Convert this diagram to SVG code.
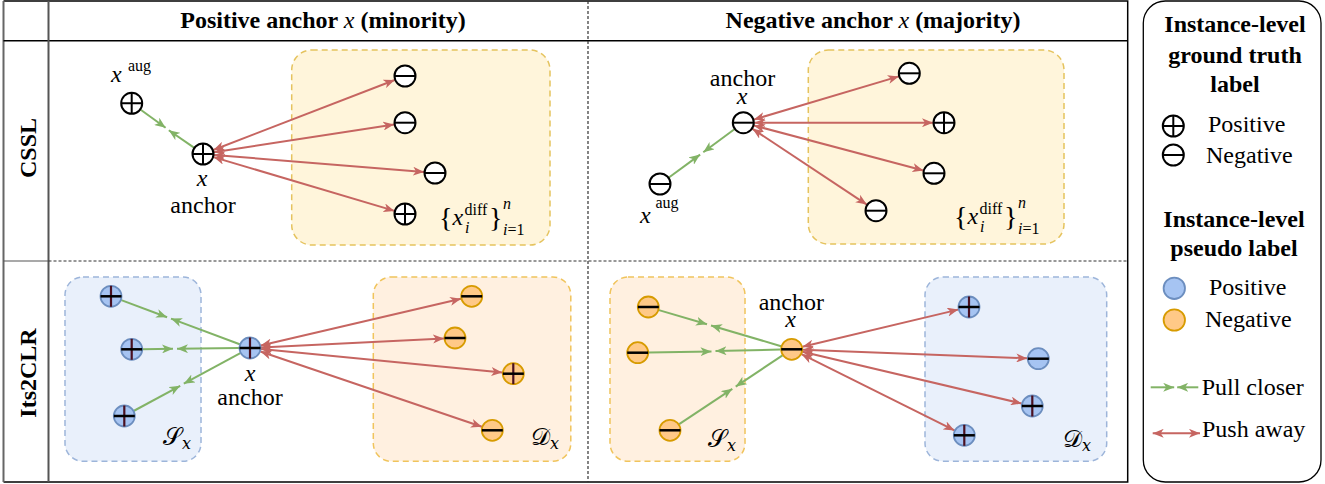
<svg xmlns="http://www.w3.org/2000/svg" width="1325" height="484" viewBox="0 0 1325 484">
<style>
text{font-family:"Liberation Serif","Times New Roman",serif;fill:#000}
.h{font-size:24px;font-weight:bold}
.t{font-size:24px}
.i{font-size:24px;font-style:italic}
.s{font-size:16px}
.si{font-size:16px;font-style:italic}
.br{font-size:28px}
.cal{font-size:24px;font-family:"DejaVu Serif","DejaVu Sans","Liberation Serif",serif}
.red{stroke:#c66561;stroke-width:2;fill:none;marker-start:url(#ar);marker-end:url(#ar)}
.grn{stroke:#82b366;stroke-width:2;fill:none;marker-end:url(#ag)}
.ybox{fill:#fff5db;stroke:#e5c35e;stroke-width:1.5;stroke-dasharray:6 4}
.bbox{fill:#e9f0fb;stroke:#9db5da;stroke-width:1.5;stroke-dasharray:6 4}
.obox{fill:#fff0e0;stroke:#f0c45c;stroke-width:1.5;stroke-dasharray:6 4}
.dash{stroke:#333;stroke-width:1.2;stroke-dasharray:3 2;fill:none}
</style>
<defs>
<marker id="ar" viewBox="0 0 11 9" refX="11" refY="4.5" markerWidth="11" markerHeight="9" markerUnits="userSpaceOnUse" orient="auto-start-reverse"><path d="M0,0 L11,4.5 L0,9 L3,4.5 z" fill="#c66561"/></marker>
<marker id="ag" viewBox="0 0 11 9" refX="11" refY="4.5" markerWidth="11" markerHeight="9" markerUnits="userSpaceOnUse" orient="auto"><path d="M0,0 L11,4.5 L0,9 L3,4.5 z" fill="#82b366"/></marker>
<g id="gp"><circle r="10.5" fill="#fff" stroke="#000" stroke-width="2"/><path d="M-10.5,0H10.5M0,-10.5V10.5" stroke="#000" stroke-width="2"/></g>
<g id="gm"><circle r="10.5" fill="#fff" stroke="#000" stroke-width="2"/><path d="M-10.5,0H10.5" stroke="#000" stroke-width="2"/></g>
<g id="bp"><circle r="10.5" fill="#a6c4f2" stroke="#6c8ebf" stroke-width="1.8"/><path d="M0,-10.5V10.5" stroke="#4a1020" stroke-width="2.2"/><path d="M-10.5,0H10.5" stroke="#000" stroke-width="2.5"/></g>
<g id="bm"><circle r="10.5" fill="#a6c4f2" stroke="#6c8ebf" stroke-width="1.8"/><path d="M-10.5,0H10.5" stroke="#000" stroke-width="2.5"/></g>
<g id="op"><circle r="10.5" fill="#ffc987" stroke="#d79b00" stroke-width="1.8"/><path d="M0,-10.5V10.5" stroke="#4a1020" stroke-width="2.2"/><path d="M-10.5,0H10.5" stroke="#000" stroke-width="2.5"/></g>
<g id="om"><circle r="10.5" fill="#ffc987" stroke="#d79b00" stroke-width="1.8"/><path d="M-10.5,0H10.5" stroke="#000" stroke-width="2.5"/></g>
</defs>

<rect width="1325" height="484" fill="#fff"/>

<g id="table">
<path d="M3.5,1H1127.7V482H3.5" fill="none" stroke="#000" stroke-width="1.5"/>
<path d="M3.5,1V482" stroke="#666" stroke-width="2"/>
<path d="M3.5,40.7H1127.7" stroke="#000" stroke-width="1.5"/>
<path d="M48.5,1V482" stroke="#555" stroke-width="2"/>
<path d="M3.5,261H48.5" stroke="#555" stroke-width="1.2"/>
<path class="dash" d="M48.5,261H1127.7"/>
<path class="dash" d="M588,1V482"/>
<text class="h" x="323" y="28" text-anchor="middle">Positive anchor <tspan font-style="italic" font-weight="normal">x</tspan> (minority)</text>
<text class="h" x="873" y="28" text-anchor="middle">Negative anchor <tspan font-style="italic" font-weight="normal">x</tspan> (majority)</text>
<text class="h" transform="translate(35.5,148) rotate(-90)" text-anchor="middle">CSSL</text>
<text class="h" transform="translate(35.5,373) rotate(-90)" text-anchor="middle">Its2CLR</text>
</g>

<g id="boxes">
<rect class="ybox" x="291.7" y="50" width="258.3" height="195" rx="20"/>
<rect class="ybox" x="808.3" y="50" width="255.7" height="194" rx="20"/>
<rect class="bbox" x="65" y="277" width="136" height="184.3" rx="18"/>
<rect class="obox" x="373.3" y="277" width="197.5" height="184.3" rx="18"/>
<rect class="obox" x="610" y="277" width="135" height="184.3" rx="18"/>
<rect class="bbox" x="925" y="277" width="181.7" height="184.3" rx="18"/>
</g>

<g id="connectors">
<!-- CSSL positive -->
<path class="grn" d="M140.7,109.7L165.6,127.8"/>
<path class="grn" d="M194,147.6L168.8,130.2"/>
<path class="red" d="M213.3,150L394.7,80"/>
<path class="red" d="M213.9,152.3L394.1,124.4"/>
<path class="red" d="M214,154.9L424,172.1"/>
<path class="red" d="M213.5,157.1L394.5,210.9"/>
<!-- CSSL negative -->
<path class="grn" d="M668.9,177.5L700.1,154.6"/>
<path class="grn" d="M734.4,129.2L703.3,152.2"/>
<path class="red" d="M753.8,119.6L898.8,76.4"/>
<path class="red" d="M754.3,122.7L933,122.7"/>
<path class="red" d="M753.9,125.5L923.4,170.5"/>
<path class="red" d="M752.5,128.8L866.8,204.6"/>
<!-- Its2CLR positive -->
<path class="grn" d="M121.3,300.1L167.1,317.2"/>
<path class="grn" d="M239.7,344.2L171,318.6"/>
<path class="grn" d="M142.7,349.2L173,348.8"/>
<path class="grn" d="M239,348.1L177,348.8"/>
<path class="grn" d="M133.6,411L180.2,385.8"/>
<path class="grn" d="M240.3,353.2L183.8,383.7"/>
<path class="red" d="M260.7,345.5L461,298.8"/>
<path class="red" d="M261,347.5L444,338.5"/>
<path class="red" d="M261,349.1L502.3,372.6"/>
<path class="red" d="M260.4,351.5L481.9,426.8"/>
<!-- Its2CLR negative -->
<path class="grn" d="M658.9,310.1L707,324.3"/>
<path class="grn" d="M781.1,346.2L711,325.5"/>
<path class="grn" d="M648.7,352.5L711.5,351.5"/>
<path class="grn" d="M780.7,349.5L715.5,351"/>
<path class="grn" d="M679.2,424.2L732.3,388.8"/>
<path class="grn" d="M782.5,355.4L735.7,386.6"/>
<path class="red" d="M802.4,346.7L958.3,309.6"/>
<path class="red" d="M802.7,349.7L1027.3,358.3"/>
<path class="red" d="M802.4,351.8L1021.6,403.5"/>
<path class="red" d="M801.5,354.2L954.5,430.4"/>
</g>

<g id="cssl-pos">
<g id="cssl-pos-aug"><use href="#gp" transform="translate(131.7,103.3)"/>
<text class="i" x="111" y="82">x</text><text class="s" x="128" y="71">aug</text></g>
<g id="cssl-pos-anchor"><use href="#gp" transform="translate(203,154)"/>
<text class="t" text-anchor="middle"><tspan x="202" y="186" font-style="italic">x</tspan><tspan x="203" y="213">anchor</tspan></text></g>
<g id="cssl-pos-d1"><use href="#gm" transform="translate(405,76)"/></g>
<g id="cssl-pos-d2"><use href="#gm" transform="translate(405,122.7)"/></g>
<g id="cssl-pos-d3"><use href="#gm" transform="translate(435,173)"/></g>
<g id="cssl-pos-d4"><use href="#gp" transform="translate(405,214)"/></g>
<g id="cssl-pos-label">
<text class="br" x="439" y="227">{</text>
<text class="i" x="452.5" y="225">x</text>
<text class="s" x="464.5" y="215">diff</text>
<text class="si" x="465" y="233">i</text>
<text class="br" x="489" y="227">}</text>
<text class="si" x="503" y="209">n</text>
<text class="s" x="503" y="235"><tspan font-style="italic">i</tspan>=1</text>
</g>
</g>

<g id="cssl-neg">
<g id="cssl-neg-aug"><use href="#gm" transform="translate(660,184)"/>
<text class="i" x="640" y="223">x</text><text class="s" x="655.5" y="208">aug</text></g>
<g id="cssl-neg-anchor"><use href="#gm" transform="translate(743.3,122.7)"/>
<text class="t" text-anchor="middle"><tspan x="742.5" y="86">anchor</tspan><tspan x="742" y="104" font-style="italic">x</tspan></text></g>
<g id="cssl-neg-d1"><use href="#gm" transform="translate(909.3,73.3)"/></g>
<g id="cssl-neg-d2"><use href="#gp" transform="translate(944,122.7)"/></g>
<g id="cssl-neg-d3"><use href="#gm" transform="translate(934,173.3)"/></g>
<g id="cssl-neg-d4"><use href="#gm" transform="translate(876,210.7)"/></g>
<g id="cssl-neg-label">
<text class="br" x="954" y="226">{</text>
<text class="i" x="967.5" y="224">x</text>
<text class="s" x="979.5" y="214">diff</text>
<text class="si" x="980" y="232">i</text>
<text class="br" x="1004" y="226">}</text>
<text class="si" x="1018" y="208">n</text>
<text class="s" x="1018" y="234"><tspan font-style="italic">i</tspan>=1</text>
</g>
</g>

<g id="its-pos">
<g id="its-pos-s1"><use href="#bp" transform="translate(111,296.3)"/></g>
<g id="its-pos-s2"><use href="#bp" transform="translate(131.7,349.3)"/></g>
<g id="its-pos-s3"><use href="#bp" transform="translate(124.3,416)"/></g>
<g id="its-pos-anchor"><use href="#bp" transform="translate(250,348)"/>
<text class="t" text-anchor="middle"><tspan x="250" y="381" font-style="italic">x</tspan><tspan x="250" y="405">anchor</tspan></text></g>
<g id="its-pos-d1"><use href="#om" transform="translate(471.7,296.3)"/></g>
<g id="its-pos-d2"><use href="#om" transform="translate(455,338)"/></g>
<g id="its-pos-d3"><use href="#op" transform="translate(513.3,373.7)"/></g>
<g id="its-pos-d4"><use href="#om" transform="translate(492.3,430.3)"/></g>
<text class="cal" x="163" y="445">𝒮<tspan class="si" dy="4">x</tspan></text>
<text class="cal" x="531" y="445">𝒟<tspan class="si" dy="4">x</tspan></text>
</g>

<g id="its-neg">
<g id="its-neg-s1"><use href="#om" transform="translate(648.3,307)"/></g>
<g id="its-neg-s2"><use href="#om" transform="translate(637.7,352.7)"/></g>
<g id="its-neg-s3"><use href="#om" transform="translate(670,430.3)"/></g>
<g id="its-neg-anchor"><use href="#om" transform="translate(791.7,349.3)"/>
<text class="t" text-anchor="middle"><tspan x="791.3" y="310">anchor</tspan><tspan x="790.5" y="327" font-style="italic">x</tspan></text></g>
<g id="its-neg-d1"><use href="#bp" transform="translate(969,307)"/></g>
<g id="its-neg-d2"><use href="#bm" transform="translate(1038.3,358.7)"/></g>
<g id="its-neg-d3"><use href="#bp" transform="translate(1032.3,406)"/></g>
<g id="its-neg-d4"><use href="#bp" transform="translate(964.3,435.3)"/></g>
<text class="cal" x="708" y="447">𝒮<tspan class="si" dy="4">x</tspan></text>
<text class="cal" x="1063" y="447">𝒟<tspan class="si" dy="4">x</tspan></text>
</g>

<g id="legend">
<rect x="1143.3" y="1" width="177.7" height="481" rx="22" fill="#fff" stroke="#000" stroke-width="1.3"/>
<text class="h" x="1235" y="32" text-anchor="middle">Instance-level</text>
<text class="h" x="1235" y="63" text-anchor="middle">ground truth</text>
<text class="h" x="1235" y="92" text-anchor="middle">label</text>
<g id="leg-gp"><use href="#gp" transform="translate(1173.3,126)"/><text class="t" x="1208" y="132">Positive</text></g>
<g id="leg-gm"><use href="#gm" transform="translate(1173.3,155)"/><text class="t" x="1206" y="163">Negative</text></g>
<text class="h" x="1234" y="227" text-anchor="middle">Instance-level</text>
<text class="h" x="1234" y="256" text-anchor="middle">pseudo label</text>
<g id="leg-bp"><circle cx="1174.3" cy="288.3" r="10.7" fill="#a6c4f2" stroke="#6c8ebf" stroke-width="1.8"/><text class="t" x="1209" y="295">Positive</text></g>
<g id="leg-om"><circle cx="1174.3" cy="320" r="10.7" fill="#ffc987" stroke="#d79b00" stroke-width="1.8"/><text class="t" x="1205" y="327">Negative</text></g>
<g id="leg-pull"><path class="grn" d="M1150.7,387.3H1174.2"/><path class="grn" d="M1198.3,387.3H1177.2"/><text class="t" x="1201.7" y="395">Pull closer</text></g>
<g id="leg-push"><path class="red" d="M1152.7,433.3H1200"/><text class="t" x="1202" y="437">Push away</text></g>
</g>
</svg>
